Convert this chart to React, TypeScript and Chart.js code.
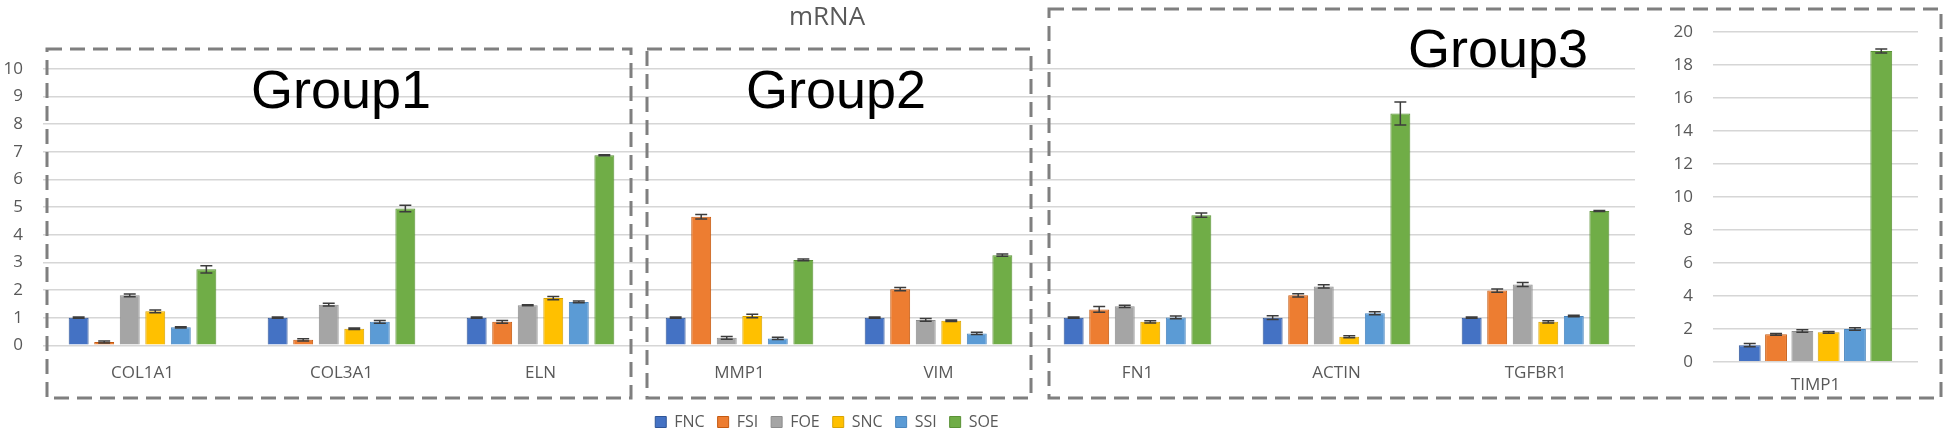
import React, { useEffect, useRef } from "react";
import { Chart, registerables } from "chart.js";

Chart.register(...registerables);

// ---------- data ----------
const categories = ["COL1A1", "COL3A1", "ELN", "MMP1", "VIM", "FN1", "ACTIN", "TGFBR1"];
const seriesNames = ["FNC", "FSI", "FOE", "SNC", "SSI", "SOE"];

const FNC = [1.0, 1.0, 1.0, 1.0, 1.0, 1.0, 1.0, 1.0];
const FSI = [0.12, 0.2, 0.85, 4.65, 2.03, 1.3, 1.81, 1.98];
const FOE = [1.81, 1.47, 1.45, 0.27, 0.92, 1.41, 2.13, 2.2];
const SNC = [1.23, 0.6, 1.71, 1.06, 0.89, 0.85, 0.31, 0.85];
const SSI = [0.65, 0.85, 1.57, 0.25, 0.43, 1.01, 1.16, 1.06];
const SOE = [2.75, 4.95, 6.88, 3.09, 3.26, 4.71, 8.39, 4.86];

const FNC_err = [0.02, 0.02, 0.02, 0.02, 0.02, 0.02, 0.07, 0.02];
const FSI_err = [0.04, 0.04, 0.05, 0.08, 0.06, 0.1, 0.06, 0.06];
const FOE_err = [0.05, 0.05, 0.02, 0.05, 0.05, 0.04, 0.06, 0.07];
const SNC_err = [0.05, 0.03, 0.06, 0.06, 0.03, 0.04, 0.04, 0.04];
const SSI_err = [0.02, 0.05, 0.03, 0.04, 0.04, 0.05, 0.05, 0.03];
const SOE_err = [0.13, 0.12, 0.02, 0.03, 0.04, 0.08, 0.42, 0.02];

const timpCategories = ["TIMP1"];
const TIMP1_values = [1.0, 1.66, 1.86, 1.78, 1.98, 18.83];
const TIMP1_errors = [0.1, 0.05, 0.08, 0.05, 0.08, 0.12];

const mainTicks = { min: 0, max: 10, step: 1 };
const timpTicks = { min: 0, max: 20, step: 2 };

const groupLabels = ["Group1", "Group2", "Group3"];
const chartTitle = "mRNA";

// ---------- styles ----------
const COLORS = ["#4472C4", "#ED7D31", "#A5A5A5", "#FFC000", "#5B9BD5", "#70AD47"];
const BORDERS = ["#2F5597", "#C55A11", "#8C8C8C", "#D9A300", "#4A86BE", "#5A9236"];
const FONT = "'Open Sans', sans-serif";
const TEXT = "#595959";
const GRID = "#d6d6d6";

const errorBarPlugin = {
  id: "errorBars",
  afterDatasetsDraw(chart: any) {
    const ctx = chart.ctx;
    const yScale = chart.scales.y;
    ctx.save();
    ctx.strokeStyle = "#3c3c3c";
    ctx.lineWidth = 1.5;
    chart.data.datasets.forEach((ds: any, di: number) => {
      const meta = chart.getDatasetMeta(di);
      if (!meta.visible || !ds.errors) return;
      meta.data.forEach((bar: any, i: number) => {
        const v = ds.data[i];
        const e = ds.errors[i];
        if (v == null || e == null) return;
        const x = bar.x;
        const yTop = yScale.getPixelForValue(v + e);
        const yBot = yScale.getPixelForValue(v - e);
        const half = Math.min(6, bar.width * 0.3);
        ctx.beginPath();
        ctx.moveTo(x, yTop);
        ctx.lineTo(x, yBot);
        ctx.moveTo(x - half, yTop);
        ctx.lineTo(x + half, yTop);
        ctx.moveTo(x - half, yBot);
        ctx.lineTo(x + half, yBot);
        ctx.stroke();
      });
    });
    ctx.restore();
  },
};

// shift the full-width title and legend so they centre where the reference has them
const shiftPlugin = {
  id: "shiftBoxes",
  afterLayout(chart: any) {
    const dx = 9.5;
    [chart.titleBlock, chart.legend].forEach((b: any) => {
      if (b) {
        b.left += dx;
        b.right += dx;
      }
    });
  },
};

function MainChart() {
  const ref = useRef<HTMLCanvasElement>(null);
  useEffect(() => {
    const values = [FNC, FSI, FOE, SNC, SSI, SOE];
    const errs = [FNC_err, FSI_err, FOE_err, SNC_err, SSI_err, SOE_err];
    const chart = new Chart(ref.current as HTMLCanvasElement, {
      type: "bar",
      data: {
        labels: categories,
        datasets: seriesNames.map((name, k) => ({
          label: name,
          data: values[k],
          errors: errs[k],
          backgroundColor: COLORS[k],
          borderColor: BORDERS[k],
          borderWidth: 1,
          categoryPercentage: 0.77,
          barPercentage: 0.78,
        })) as any,
      },
      options: {
        responsive: false,
        animation: false,
        layout: { padding: { left: 0, right: 0, top: 0, bottom: 5 } },
        plugins: {
          title: {
            display: true,
            text: chartTitle,
            color: TEXT,
            font: { family: FONT, size: 26, weight: "normal" },
            padding: { top: 2.4, bottom: 35.4 },
          },
          legend: {
            position: "bottom",
            labels: {
              boxWidth: 11,
              boxHeight: 11,
              padding: 13,
              color: TEXT,
              font: { family: FONT, size: 16 },
            },
          },
          tooltip: { enabled: false },
        },
        scales: {
          x: {
            grid: { display: false, drawTicks: false },
            border: { display: false },
            ticks: { padding: 18, color: TEXT, font: { family: FONT, size: 17 } },
            afterFit: (s: any) => {
              s.height = 55.7;
            },
          },
          y: {
            min: mainTicks.min,
            max: mainTicks.max,
            ticks: { stepSize: mainTicks.step, padding: 20, color: TEXT, font: { family: FONT, size: 17 } },
            grid: { color: GRID, lineWidth: 1.6, drawTicks: false },
            border: { display: false },
            afterFit: (s: any) => {
              s.width = 43;
            },
          },
        },
      } as any,
      plugins: [errorBarPlugin, shiftPlugin],
    });
    return () => chart.destroy();
  }, []);
  return (
    <canvas
      ref={ref}
      width={1635}
      height={445}
      style={{ position: "absolute", left: 0, top: 0, width: 1635, height: 445 }}
    />
  );
}

function TimpChart() {
  const ref = useRef<HTMLCanvasElement>(null);
  useEffect(() => {
    const chart = new Chart(ref.current as HTMLCanvasElement, {
      type: "bar",
      data: {
        labels: timpCategories,
        datasets: seriesNames.map((name, k) => ({
          label: name,
          data: [TIMP1_values[k]],
          errors: [TIMP1_errors[k]],
          backgroundColor: COLORS[k],
          borderColor: BORDERS[k],
          borderWidth: 1,
          categoryPercentage: 0.77,
          barPercentage: 0.83,
        })) as any,
      },
      options: {
        responsive: false,
        animation: false,
        layout: { padding: { left: 0, right: 32, top: 31.7, bottom: 0 } },
        plugins: {
          title: { display: false },
          legend: { display: false },
          tooltip: { enabled: false },
        },
        scales: {
          x: {
            grid: { display: false, drawTicks: false },
            border: { display: false },
            ticks: { padding: 13, color: TEXT, font: { family: FONT, size: 17 } },
            afterFit: (s: any) => {
              s.height = 83.3;
            },
          },
          y: {
            min: timpTicks.min,
            max: timpTicks.max,
            ticks: { stepSize: timpTicks.step, padding: 20, color: TEXT, font: { family: FONT, size: 17 } },
            grid: { color: GRID, lineWidth: 1.6, drawTicks: false },
            border: { display: false },
            afterFit: (s: any) => {
              s.width = 73;
            },
          },
        },
      } as any,
      plugins: [errorBarPlugin],
    });
    return () => chart.destroy();
  }, []);
  return (
    <canvas
      ref={ref}
      width={310}
      height={445}
      style={{ position: "absolute", left: 1640, top: 0, width: 310, height: 445 }}
    />
  );
}

function Overlay() {
  const dash = "15 8";
  const stroke = "#7f7f7f";
  const boxes = [
    { x1: 47, y1: 49, x2: 631, y2: 398 },
    { x1: 647, y1: 49, x2: 1031, y2: 398 },
    { x1: 1049, y1: 9, x2: 1941, y2: 398 },
  ];
  const labels = [
    { x: 341, y: 108 },
    { x: 836, y: 108 },
    { x: 1498, y: 67 },
  ];
  return (
    <svg
      width={1950}
      height={445}
      style={{ position: "absolute", left: 0, top: 0, pointerEvents: "none" }}
    >
      {boxes.map((b, i) => (
        <rect
          key={i}
          x={b.x1}
          y={b.y1}
          width={b.x2 - b.x1}
          height={b.y2 - b.y1}
          fill="none"
          stroke={stroke}
          strokeWidth={3}
          strokeDasharray={dash}
        />
      ))}
      {labels.map((l, i) => (
        <text
          key={i}
          x={l.x}
          y={l.y}
          textAnchor="middle"
          fontFamily="'Liberation Sans', Arial, sans-serif"
          fontSize={54}
          fill="#000"
        >
          {groupLabels[i]}
        </text>
      ))}
    </svg>
  );
}

export default function App() {
  return (
    <div
      style={{
        position: "absolute",
        left: 0,
        top: 0,
        width: 1950,
        height: 445,
        background: "#fff",
        overflow: "hidden",
      }}
    >
      <MainChart />
      <TimpChart />
      <Overlay />
    </div>
  );
}
